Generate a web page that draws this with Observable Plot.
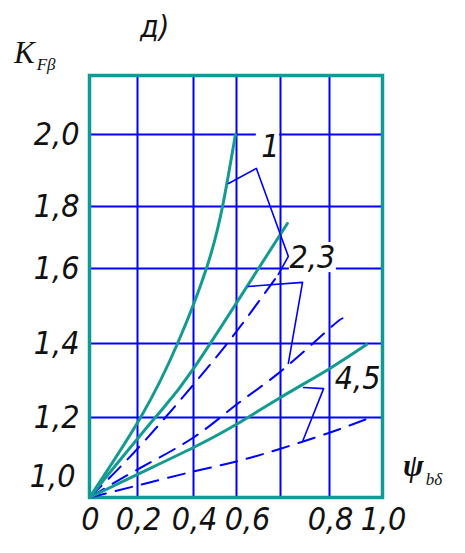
<!DOCTYPE html>
<html>
<head>
<meta charset="utf-8">
<script src="https://cdn.jsdelivr.net/npm/d3@7"></script>
<script src="https://cdn.jsdelivr.net/npm/@observablehq/plot@0.6"></script>
<style>
  html, body { margin: 0; padding: 0; background: #fff; }
  #chart { position: relative; width: 465px; height: 553px; }
  svg { display: block; }
</style>
</head>
<body>
<div id="chart"></div>
<script>
// ---- data ----
const xGrid = [0.2, 0.4, 0.6, 0.7, 0.8];
const yGrid = [1.2, 1.4, 1.6, 1.8, 2.0];
const xLabels = [0, 0.2, 0.4, 0.8, 1.0];
const xLabelShifted = [0.6];
const yLabels = [1.2, 1.4, 1.6, 1.8, 2.0];
const yLabelLow = [1.0];

// solid curves
const curve1 = [[0, 1.0], [0.211, 1.2], [0.343, 1.4], [0.46, 1.6], [0.535, 1.8], [0.595, 2.0]];
const curve2 = [[0, 1.0], [0.261, 1.198], [0.4, 1.332], [0.65, 1.6], [0.714, 1.745]];
const curve3 = [[0, 1.0], [0.2, 1.058], [0.4, 1.125], [0.6, 1.183], [0.7, 1.254], [0.8, 1.332], [0.94, 1.397]];
// dashed curves
const dashed1 = [[0, 1.0], [0.2, 1.122], [0.4, 1.289], [0.6, 1.432], [0.695, 1.584]];
const dashed2 = [[0, 1.0], [0.2, 1.07], [0.4, 1.15], [0.6, 1.235], [0.7, 1.324], [0.8, 1.44], [0.849, 1.467]];
const dashed3 = [[0, 1.0], [0.2, 1.03], [0.4, 1.065], [0.6, 1.09], [0.7, 1.122], [0.8, 1.162], [0.943, 1.197]];
// leader lines
const leader1 = [[0.563, 1.864], [0.645, 1.906], [0.716, 1.639], [0.695, 1.584]];
const leader2 = [[0.627, 1.552], [0.745, 1.563], [0.716, 1.346]];
const leader3 = [[0.747, 1.281], [0.788, 1.278], [0.745, 1.14]];
// curve labels
const curveLabels = [
  {text: "1", x: 0.677, y: 1.967},
  {text: "2,3", x: 0.765, y: 1.635},
  {text: "4,5", x: 0.906, y: 1.305}
];
const gaps = [
  {x1: 0.645, x2: 0.698, y1: 1.93, y2: 2.016},
  {x1: 0.718, x2: 0.826, y1: 1.589, y2: 1.684}
];

// hand-drawn (uneven) graduation of the original axes
const xStops = [0, 0.2, 0.4, 0.6, 0.7, 0.8, 1.0];
const yStops = [1.0, 1.2, 1.4, 1.6, 1.8, 2.0, 2.16];
const warpX = d3.scaleLinear().domain(xStops).range([89, 137, 193, 236, 280, 329, 382]);
const warpY = d3.scaleLinear().domain(yStops).range([497, 417, 343, 268, 206, 134, 75]);

const BLUE = "#0000ff";
const TEAL = "#139b91";
const FRAME = "#0e9a95";
const DIGITS = "'DejaVu Sans Condensed', 'Liberation Sans Narrow', 'Liberation Sans', sans-serif";
const fmt = d => d === 0 ? "0" : d.toFixed(1).replace(".", ",");
const px = d => d[0], py = d => d[1];

const lineOpts = {x: px, y: py, curve: "natural"};
const txt = {fontSize: 32, fontStyle: "italic", fontFamily: DIGITS, fill: "#111"};

const plot = Plot.plot({
  width: 465,
  height: 553,
  marginLeft: 89,
  marginRight: 83,
  marginTop: 75,
  marginBottom: 56,
  style: {background: "#fff", overflow: "visible"},
  x: {transform: d => warpX(d), domain: [89, 382], range: [89, 382], axis: null},
  y: {transform: d => warpY(d), domain: [75, 497], range: [75, 497], axis: null},
  marks: [
    Plot.ruleX(xGrid, {x: d => d, stroke: BLUE, strokeWidth: 2}),
    Plot.ruleY(yGrid, {y: d => d, stroke: BLUE, strokeWidth: 2}),
    Plot.rect(gaps, {x1: "x1", x2: "x2", y1: "y1", y2: "y2", fill: "#fff"}),
    Plot.frame({stroke: FRAME, strokeWidth: 3.5}),
    Plot.line(dashed1, {...lineOpts, stroke: BLUE, strokeWidth: 2, strokeDasharray: "17,10"}),
    Plot.line(dashed2, {...lineOpts, stroke: BLUE, strokeWidth: 2, strokeDasharray: "17,10"}),
    Plot.line(dashed3, {...lineOpts, stroke: BLUE, strokeWidth: 2, strokeDasharray: "17,10"}),
    Plot.line(curve1, {...lineOpts, stroke: TEAL, strokeWidth: 3}),
    Plot.line(curve2, {...lineOpts, stroke: TEAL, strokeWidth: 3}),
    Plot.line(curve3, {...lineOpts, stroke: TEAL, strokeWidth: 3}),
    Plot.line(leader1, {x: px, y: py, stroke: BLUE, strokeWidth: 1.6}),
    Plot.line(leader2, {x: px, y: py, stroke: BLUE, strokeWidth: 1.6}),
    Plot.line(leader3, {x: px, y: py, stroke: BLUE, strokeWidth: 1.6}),
    Plot.text(curveLabels, {x: "x", y: "y", text: "text", ...txt}),
    Plot.text(yLabels, {y: d => d, text: fmt, frameAnchor: "left", dx: -10, textAnchor: "end", ...txt}),
    Plot.text(yLabelLow, {y: d => d, text: fmt, frameAnchor: "left", dx: -14, dy: -21, textAnchor: "end", ...txt}),
    Plot.text(xLabels, {x: d => d, text: fmt, frameAnchor: "bottom", dy: 32, dx: 1, ...txt}),
    Plot.text(xLabelShifted, {x: d => d, text: fmt, frameAnchor: "bottom", dy: 32, dx: 11, ...txt})
  ]
});

document.getElementById("chart").appendChild(plot);

// axis titles and panel tag (real text)
const svg = d3.select(plot);
const k = svg.append("text").attr("x", 14).attr("y", 63).attr("text-anchor", "start")
  .attr("font-family", "'Liberation Serif', serif").attr("font-style", "italic").attr("font-size", 31).attr("fill", "#111");
k.append("tspan").text("K");
k.append("tspan").attr("font-size", 17).attr("dy", 7).attr("dx", 2).text("Fβ");

const psi = svg.append("text").attr("x", 403).attr("y", 476).attr("text-anchor", "start")
  .attr("font-family", "'Liberation Serif', serif").attr("font-style", "italic").attr("font-weight", "bold").attr("font-size", 31).attr("fill", "#111");
psi.append("tspan").text("ψ");
psi.append("tspan").attr("font-size", 17).attr("font-weight", "normal").attr("dy", 9).attr("dx", 2).text("bδ");

svg.append("text").attr("x", 140).attr("y", 37).attr("text-anchor", "start")
  .attr("font-family", DIGITS).attr("font-style", "italic").attr("font-size", 30).attr("fill", "#111").text("д)");
</script>
</body>
</html>
